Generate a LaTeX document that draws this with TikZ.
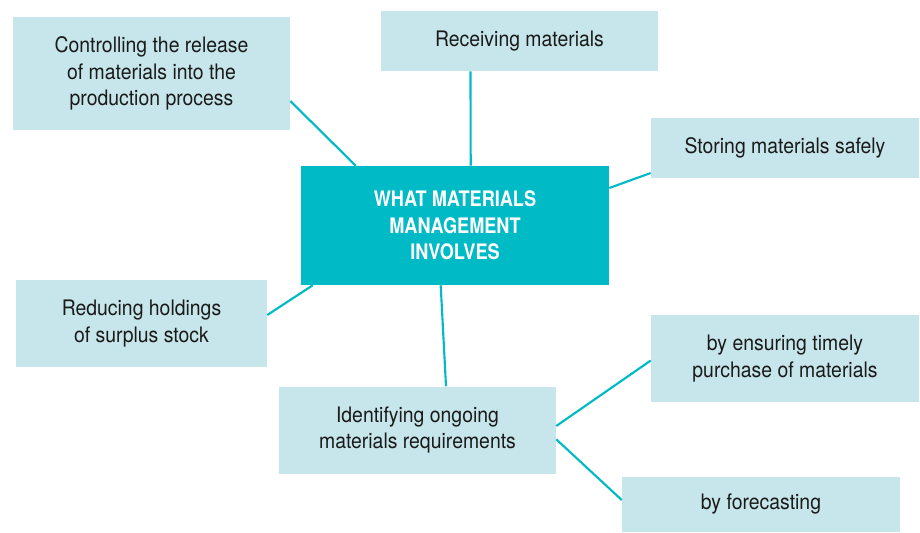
\documentclass[tikz,border=0pt]{standalone}
\usepackage{fontspec}
\setmainfont{TeX Gyre Heros}[FakeStretch=0.91,BoldFeatures={FakeStretch=0.85}]
\usepackage{xcolor}
\usetikzlibrary{calc}
\definecolor{hubteal}{RGB}{0,186,198}
\definecolor{pale}{RGB}{199,230,235}
\definecolor{ink}{RGB}{26,26,26}

\begin{document}
\begin{tikzpicture}[x=0.75pt,y=-0.75pt,
  font=\fontsize{16}{20}\selectfont,
  topic/.style={fill=pale,text=ink,align=center,inner sep=0pt},
  hub/.style={fill=hubteal,text=white,align=center,inner sep=0pt,font=\fontsize{16}{20}\selectfont\bfseries},
  link/.style={hubteal,line width=1.6pt}]
\useasboundingbox (0,0) rectangle (920,532);
% hub
\node[hub,minimum width=308*0.75pt,minimum height=119*0.75pt] (hub) at (455,225.5)
  {WHAT MATERIALS\\MANAGEMENT\\INVOLVES};
% topics round the hub
\node[topic,minimum width=277*0.75pt,minimum height=113*0.75pt] (ctrl) at (151.5,73.5)
  {Controlling the release\\of materials into the\\production process};
\node[topic,minimum width=277*0.75pt,minimum height=60*0.75pt] (recv) at (519.5,41)
  {Receiving materials};
\node[topic,minimum width=268*0.75pt,minimum height=60*0.75pt] (store) at (785,148)
  {Storing materials safely};
\node[topic,minimum width=251*0.75pt,minimum height=87*0.75pt] (reduce) at (141.5,323.5)
  {Reducing holdings\\of surplus stock};
\node[topic,minimum width=277*0.75pt,minimum height=87*0.75pt] (ident) at (417.5,430)
  {Identifying ongoing\\materials requirements};
% ways of identifying
\node[topic,minimum width=268*0.75pt,minimum height=87*0.75pt] (ensure) at (785,358.5)
  {by ensuring timely\\purchase of materials};
\node[topic,minimum width=278*0.75pt,minimum height=55*0.75pt] (fcast) at (761,504.5)
  {by forecasting};
% links
\draw[link] ($(ctrl.east)+(0,27.5)$) -- ($(hub.north west)+(55,0)$);
\draw[link] ($(recv.south)+(-49,0)$) -- ($(hub.north)+(15.7,0)$);
\draw[link] ($(hub.east)+(0,-37.5)$) -- ($(store.west)+(0,25)$);
\draw[link] ($(reduce.east)+(0,-8.5)$) -- ($(hub.south west)+(12,0)$);
\draw[link] ($(hub.south)+(-14.3,0)$) -- ($(ident.north)+(28.5,0)$);
\draw[link] ($(ident.east)+(0,-4)$) -- ($(ensure.west)+(0,2)$);
\draw[link] ($(ident.east)+(0,9.3)$) -- ($(fcast.west)+(0,-4.5)$);
\end{tikzpicture}
\end{document}
